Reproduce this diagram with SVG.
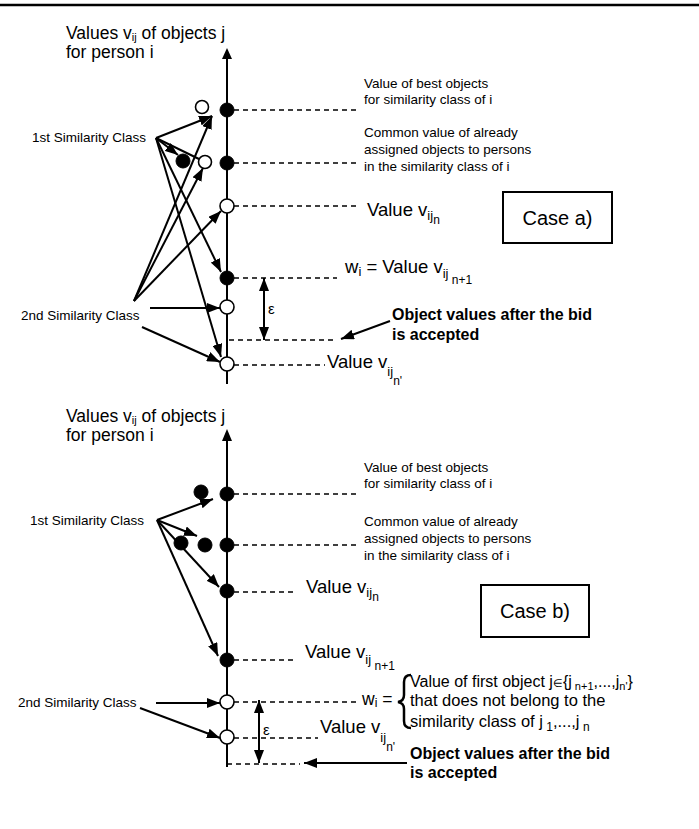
<svg xmlns="http://www.w3.org/2000/svg" width="699" height="829" viewBox="0 0 699 829">
<style>
.ax{stroke:#000;stroke-width:2;fill:none}
.ds{stroke:#000;stroke-width:1.3;stroke-dasharray:5 4;fill:none}
.cn{stroke:#000;stroke-width:2;fill:none;marker-end:url(#ah)}
.ln{stroke:#000;stroke-width:2;fill:none}
.dbl{stroke:#000;stroke-width:2;fill:none;marker-start:url(#ah2);marker-end:url(#ah2)}
.fn{fill:#000;stroke:#000;stroke-width:1}
.on{fill:#fff;stroke:#000;stroke-width:1.6}
.t{font-family:"Liberation Sans",Arial,Helvetica,sans-serif;fill:#000}
.s13{font-size:13.5px}
.s17{font-size:17.5px}
.s18{font-size:18.5px}
.b16{font-size:16px;font-weight:bold}
.box{fill:none;stroke:#000;stroke-width:2}
</style>
<defs>
<marker id="ah" markerUnits="userSpaceOnUse" markerWidth="14" markerHeight="10" refX="13" refY="5" orient="auto"><path d="M0,0 L13,5 L0,10 Z" fill="#000"/></marker>
<marker id="ah2" markerUnits="userSpaceOnUse" markerWidth="14" markerHeight="10" refX="13" refY="5" orient="auto-start-reverse"><path d="M0,0 L13,5 L0,10 Z" fill="#000"/></marker>
</defs>
<rect x="0" y="0" width="699" height="829" fill="#fff"/>
<line x1="0" y1="5" x2="699" y2="5" stroke="#000" stroke-width="2.5"/>

<!-- ===== Case a ===== -->
<g id="axis-a">
<line class="ax" x1="227" y1="57" x2="227" y2="384"/>
<path d="M227,48 L232,59 L222,59 Z" fill="#000"/>
<text class="t s17" x="66" y="39">Values v<tspan font-size="11" dy="2">ij</tspan><tspan dy="-2"> of objects j</tspan></text>
<text class="t s17" x="66" y="58">for person i</text>
</g>
<g id="guides-a">
<line class="ds" x1="234" y1="110" x2="357" y2="110"/>
<line class="ds" x1="234" y1="163" x2="357" y2="163"/>
<line class="ds" x1="234" y1="206" x2="357" y2="206"/>
<line class="ds" x1="234" y1="278" x2="337" y2="278"/>
<line class="ds" x1="229" y1="340" x2="335" y2="340"/>
<line class="ds" x1="234" y1="365" x2="325" y2="365"/>
</g>
<g id="labels-a">
<text class="t s13" x="364" y="88">Value of best objects</text>
<text class="t s13" x="364" y="104">for similarity class of i</text>
<text class="t s13" x="364" y="137">Common value of already</text>
<text class="t s13" x="364" y="154">assigned objects to persons</text>
<text class="t s13" x="364" y="171">in the similarity class of i</text>
<text class="t s18" x="367" y="216">Value v<tspan font-size="13" dy="4">ij</tspan><tspan font-size="12" dy="4">n</tspan></text>
<text class="t s18" x="345" y="273">w<tspan font-size="13" dy="3">i</tspan><tspan dy="-3"> = Value v</tspan><tspan font-size="13" dy="5">ij</tspan><tspan font-size="12" dy="6"> n+1</tspan></text>
<text class="t s18" x="327" y="368">Value v<tspan font-size="13" dy="8">ij</tspan><tspan font-size="12" dy="9">n'</tspan></text>
<text class="t b16" x="392" y="320">Object values after the bid</text>
<text class="t b16" x="392" y="340">is accepted</text>
<text class="t s13" x="32" y="142">1st Similarity Class</text>
<text class="t s13" x="21" y="320">2nd Similarity Class</text>
<text class="t" font-size="15" x="268" y="314">ε</text>
</g>
<g id="case-a-box">
<rect class="box" x="503" y="192" width="109" height="51"/>
<text class="t" font-size="20" x="557.5" y="225" text-anchor="middle">Case a)</text>
</g>
<g id="nodes-a">
<g id="a1"><circle class="fn" cx="227" cy="110" r="7"/></g>
<g id="a1o"><circle class="on" cx="202" cy="107" r="6.5"/></g>
<g id="a2"><circle class="fn" cx="227" cy="163" r="7"/></g>
<g id="a2o"><circle class="on" cx="205" cy="162" r="6.5"/></g>
<g id="a2f"><circle class="fn" cx="183" cy="161" r="7"/></g>
<g id="a3"><circle class="on" cx="227" cy="206" r="7"/></g>
<g id="a4"><circle class="fn" cx="227" cy="278" r="7"/></g>
<g id="a5"><circle class="on" cx="227" cy="307" r="7"/></g>
<g id="a6"><circle class="on" cx="227" cy="364" r="7"/></g>
</g>
<g id="connectors-a">
<line class="cn" x1="156" y1="138" x2="212" y2="116"/>
<line class="cn" x1="156" y1="138" x2="178" y2="155"/>
<line class="ln" x1="156" y1="138" x2="199" y2="159"/>
<line class="cn" x1="156" y1="138" x2="221" y2="272"/>
<line class="cn" x1="156" y1="138" x2="221" y2="357"/>
<line class="cn" x1="134" y1="301" x2="212" y2="116"/>
<line class="cn" x1="134" y1="301" x2="203" y2="168"/>
<line class="cn" x1="134" y1="301" x2="221" y2="211"/>
<line class="cn" x1="150" y1="308" x2="220" y2="308"/>
<line class="cn" x1="142" y1="327" x2="220" y2="362"/>
<line class="cn" x1="390" y1="321" x2="341" y2="339"/>
<line class="dbl" x1="264" y1="278" x2="264" y2="340"/>
</g>

<!-- ===== Case b ===== -->
<g id="axis-b">
<line class="ax" x1="227" y1="438" x2="227" y2="767"/>
<path d="M227,429 L232,441 L222,441 Z" fill="#000"/>
<text class="t s17" x="66" y="422">Values v<tspan font-size="11" dy="2">ij</tspan><tspan dy="-2"> of objects j</tspan></text>
<text class="t s17" x="66" y="441">for person i</text>
</g>
<g id="guides-b">
<line class="ds" x1="234" y1="494" x2="357" y2="494"/>
<line class="ds" x1="234" y1="545" x2="357" y2="545"/>
<line class="ds" x1="234" y1="592" x2="297" y2="592"/>
<line class="ds" x1="234" y1="660" x2="297" y2="660"/>
<line class="ds" x1="234" y1="702" x2="356" y2="702"/>
<line class="ds" x1="234" y1="738" x2="318" y2="738"/>
<line class="ds" x1="227" y1="764" x2="300" y2="764"/>
</g>
<g id="labels-b">
<text class="t s13" x="364" y="472">Value of best objects</text>
<text class="t s13" x="364" y="488">for similarity class of i</text>
<text class="t s13" x="364" y="526">Common value of already</text>
<text class="t s13" x="364" y="543">assigned objects to persons</text>
<text class="t s13" x="364" y="560">in the similarity class of i</text>
<text class="t s18" x="306" y="593">Value v<tspan font-size="13" dy="4">ij</tspan><tspan font-size="12" dy="4">n</tspan></text>
<text class="t s18" x="305" y="658">Value v<tspan font-size="13" dy="6">ij</tspan><tspan font-size="12" dy="6"> n+1</tspan></text>
<text class="t s17" x="362" y="705">w<tspan font-size="12" dy="2">i</tspan><tspan dy="-2"> =</tspan></text>
<path d="M411,675 Q404,675 404,682 L404,695 Q404,701 398,702 Q404,703 404,709 L404,721 Q404,728 411,728" fill="none" stroke="#000" stroke-width="2.5"/>
<text class="t" font-size="16" x="410" y="687">Value of first object j<tspan font-size="11">∈</tspan>{j<tspan font-size="11" dy="3"> n+1</tspan><tspan dy="-3">,...,j</tspan><tspan font-size="11" dy="3">n'</tspan><tspan dy="-3">}</tspan></text>
<text class="t" font-size="16.5" x="410" y="706">that does not belong to the</text>
<text class="t" font-size="16.5" x="410" y="727">similarity class of j<tspan font-size="12" dy="4"> 1</tspan><tspan dy="-4">,...,j</tspan><tspan font-size="12" dy="4"> n</tspan></text>
<text class="t s18" x="320" y="733">Value v<tspan font-size="13" dy="9">ij</tspan><tspan font-size="12" dy="9">n'</tspan></text>
<text class="t b16" x="410" y="759">Object values after the bid</text>
<text class="t b16" x="410" y="778">is accepted</text>
<text class="t s13" x="30" y="525">1st Similarity Class</text>
<text class="t s13" x="18" y="707">2nd Similarity Class</text>
<text class="t" font-size="15" x="263" y="735">ε</text>
</g>
<g id="case-b-box">
<rect class="box" x="481" y="585" width="108" height="52"/>
<text class="t" font-size="20" x="535" y="618" text-anchor="middle">Case b)</text>
</g>
<g id="nodes-b">
<g id="b1"><circle class="fn" cx="227" cy="494" r="7"/></g>
<g id="b1f"><circle class="fn" cx="201" cy="492" r="7"/></g>
<g id="b2"><circle class="fn" cx="227" cy="545" r="7"/></g>
<g id="b2f"><circle class="fn" cx="205" cy="545" r="7"/></g>
<g id="b2g"><circle class="fn" cx="181" cy="543" r="7"/></g>
<g id="b3"><circle class="fn" cx="227" cy="591" r="7"/></g>
<g id="b4"><circle class="fn" cx="227" cy="660" r="7"/></g>
<g id="b5"><circle class="on" cx="227" cy="702" r="7"/></g>
<g id="b6"><circle class="on" cx="227" cy="737" r="7"/></g>
</g>
<g id="connectors-b">
<line class="cn" x1="157" y1="520" x2="213" y2="499"/>
<line class="cn" x1="157" y1="520" x2="197" y2="536"/>
<line class="cn" x1="157" y1="520" x2="219" y2="587"/>
<line class="cn" x1="157" y1="520" x2="218" y2="656"/>
<line class="cn" x1="156" y1="703" x2="220" y2="703"/>
<line class="cn" x1="140" y1="708" x2="220" y2="738"/>
<line class="cn" x1="407" y1="763" x2="304" y2="763"/>
<line class="dbl" x1="259" y1="700" x2="259" y2="763"/>
</g>
</svg>
